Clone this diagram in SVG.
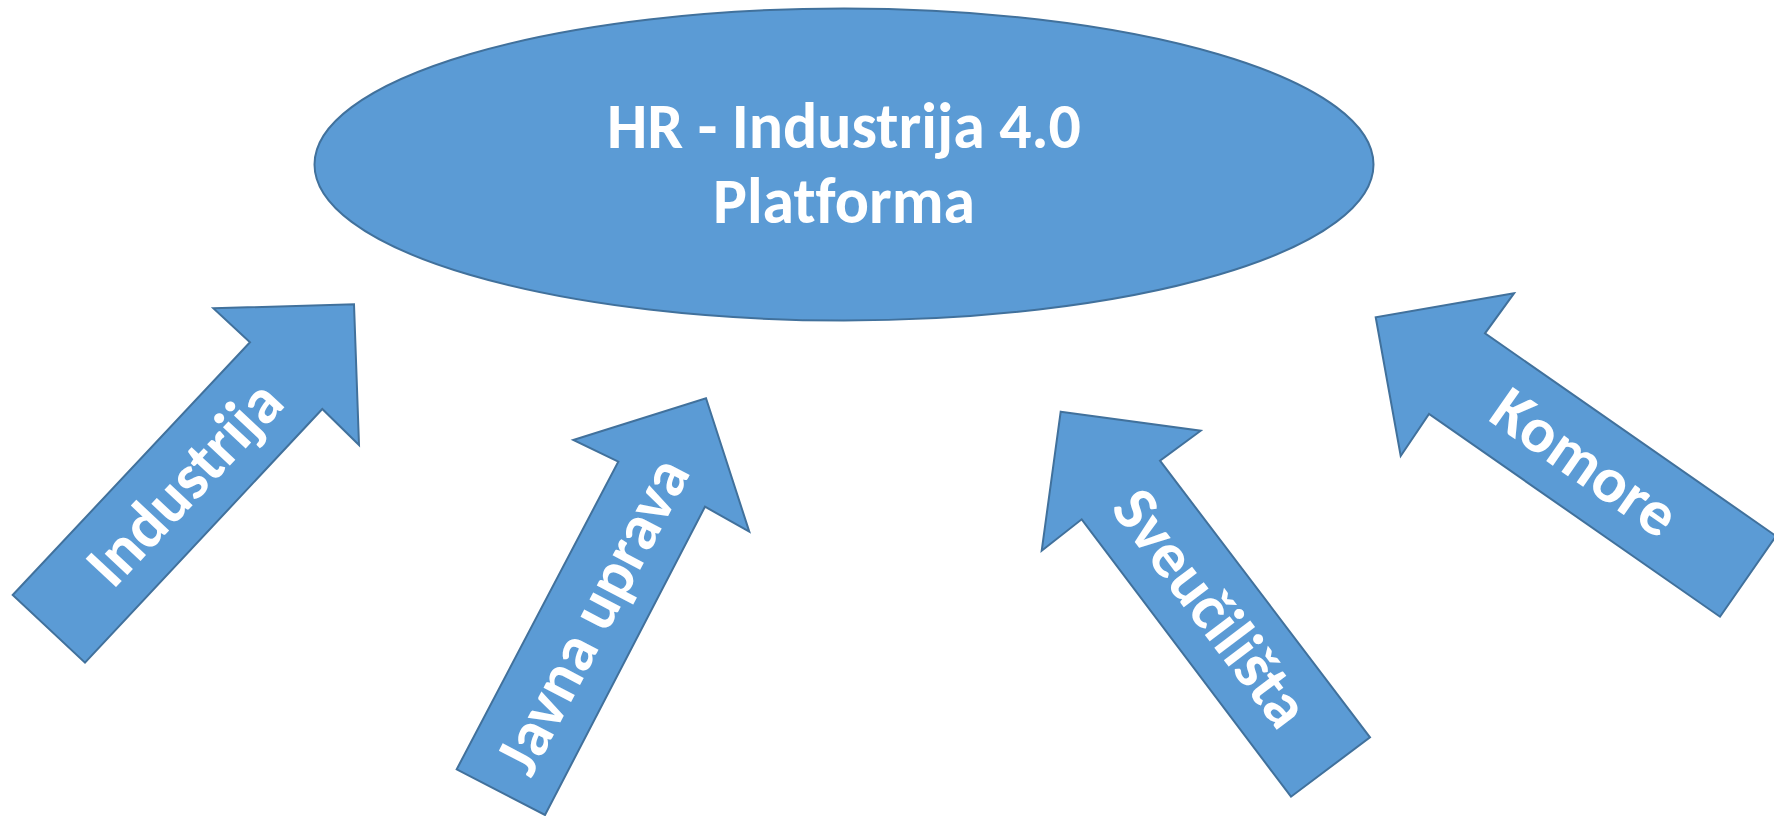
<svg xmlns="http://www.w3.org/2000/svg" width="1774" height="816" viewBox="0 0 1774 816">
<style>
.shape{fill:#5B9BD5;stroke:#41719C;stroke-width:2;stroke-linejoin:miter}
.lbl{font-family:Carlito,"Open Sans","Noto Sans",sans-serif;font-weight:bold;font-size:64px;fill:#FFFFFF;text-anchor:middle;font-variant-ligatures:none;font-feature-settings:"liga" 0,"clig" 0,"dlig" 0}
</style>
<rect width="1774" height="816" fill="#FFFFFF"/>
<g id="platforma">
<ellipse class="shape" cx="844" cy="164.5" rx="529.5" ry="156"/>
<text class="lbl" x="844" y="148" textLength="474" lengthAdjust="spacingAndGlyphs">HR - Industrija 4.0</text>
<text class="lbl" x="844" y="223" textLength="262" lengthAdjust="spacingAndGlyphs">Platforma</text>
</g>
<g id="arrows">
<g id="industrija">
<polygon class="shape" points="213.3,308.3 354,304.3 359,445 322.3,409 85,662.7 12.7,595 250,342.3"/>
<text class="lbl" transform="translate(184.9,483.5) rotate(-46.9)" x="0" y="20.5" textLength="254" lengthAdjust="spacingAndGlyphs">Industrija</text>
</g>
<g id="javna-uprava">
<polygon class="shape" points="573.3,440 706,398.3 749.3,531.7 705,506.7 545,815 456.7,769.3 618.3,461.7"/>
<text class="lbl" transform="translate(592.9,615.9) rotate(-62.4)" x="0" y="20.5" textLength="346" lengthAdjust="spacingAndGlyphs">Javna uprava</text>
</g>
<g id="sveucilista">
<polygon class="shape" points="1060.7,411.7 1200.7,430.7 1160,460.7 1370,737.3 1291,796.7 1081.7,519.3 1041.7,550.7"/>
<text class="lbl" transform="translate(1210.5,608.4) rotate(52.9)" x="0" y="20.5" textLength="280" lengthAdjust="spacingAndGlyphs">Sveučilišta</text>
</g>
<g id="komore">
<polygon class="shape" points="1514,293.3 1375.7,317.3 1400.7,456 1429,414 1720,616.7 1776,536 1485,333.3"/>
<text class="lbl" transform="translate(1584.7,462.7) rotate(34.9)" x="0" y="20.5" textLength="211" lengthAdjust="spacingAndGlyphs">Komore</text>
</g>
</g>
</svg>
